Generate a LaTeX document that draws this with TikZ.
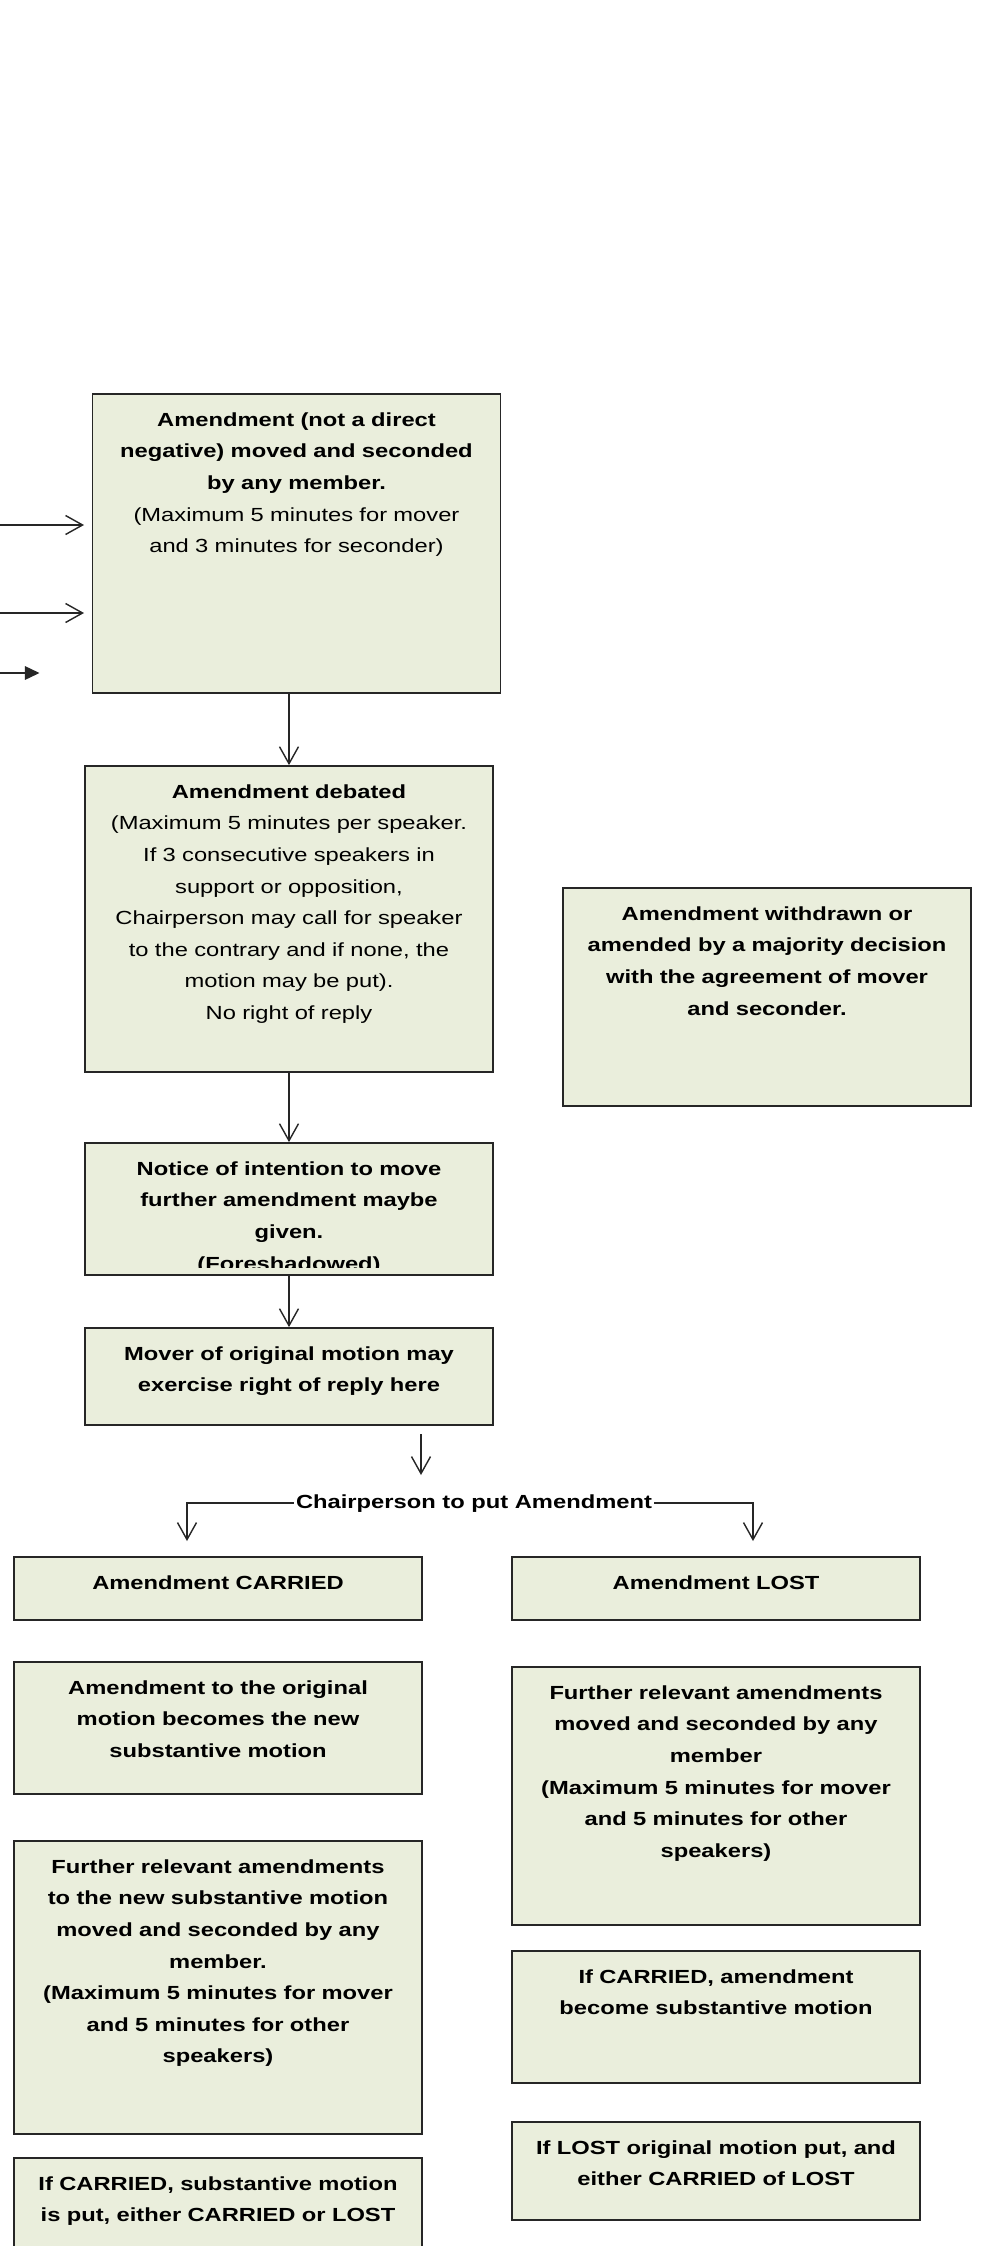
\documentclass[tikz,border=0pt]{standalone}
\usepackage{fontspec}
\setmainfont{Liberation Sans}[FakeStretch=1.25]
\usetikzlibrary{arrows.meta}
\definecolor{mSage}{HTML}{EAEEDC}
\definecolor{mInk}{HTML}{262626}

\begin{document}
\begin{tikzpicture}[
  bx/.style={draw=mInk, fill=mSage, line width=1pt, minimum width=8.16cm, inner sep=0pt},
  txt/.style={anchor=base, text width=8cm, align=center, inner sep=0pt,
              font=\fontsize{10.8}{18}\selectfont\bfseries},
  arr/.style={draw=mInk, line width=0.8pt, -{Straight Barb[length=3.4mm, width=3.8mm]}},
]
  \clip (0,0) rectangle (19.7,-44.92);
  \fill[white] (0,0) rectangle (19.7,-44.92);

  % Main column
  \node[bx, minimum height=5.98cm] (amend) at (5.93,-10.87) {};
  \node[txt] (amendT) at ([yshift=-0.66cm]amend.north) {Amendment (not a direct\\negative) moved and seconded\\by any member.\\\mdseries(Maximum 5 minutes for mover\\and 3 minutes for seconder)};

  \node[bx, minimum height=6.12cm] (debate) at (5.78,-18.38) {};
  \node[txt] (debateT) at ([yshift=-0.66cm]debate.north) {Amendment debated\\\mdseries(Maximum 5 minutes per speaker.\\If 3 consecutive speakers in\\support or opposition,\\Chairperson may call for speaker\\to the contrary and if none, the\\motion may be put).\\No right of reply};

  \node[bx, minimum height=4.36cm] (withdraw) at (15.34,-19.94) {};
  \node[txt] (withdrawT) at ([yshift=-0.66cm]withdraw.north) {Amendment withdrawn or\\amended by a majority decision\\with the agreement of mover\\and seconder.};

  \node[bx, minimum height=2.64cm] (notice) at (5.78,-24.18) {};
  \begin{scope}
    \clip ([yshift=0.16cm]notice.south west) rectangle (notice.north east);
    \node[txt] (noticeT) at ([yshift=-0.66cm]notice.north) {Notice of intention to move\\further amendment maybe\\given.\\(Foreshadowed)};
  \end{scope}

  \node[bx, minimum height=1.94cm] (reply) at (5.78,-27.53) {};
  \node[txt] (replyT) at ([yshift=-0.66cm]reply.north) {Mover of original motion may\\exercise right of reply here};

  \draw[arr] (debate.north |- amend.south) -- (debate.north);
  \draw[arr] (debate.south) -- (notice.north);
  \draw[arr] (notice.south) -- (reply.north);

  % Incoming arrows from the left
  \foreach \y [count=\i] in {-10.50,-12.26} {
    \coordinate (in\i) at (0,\y);
    \coordinate (tip\i) at (1.68,\y);
    \draw[arr] (in\i) -- (tip\i);
  }
  \coordinate (in3) at (0,-13.46);
  \coordinate (tip3) at (0.79,-13.46);
  \draw[mInk, line width=0.8pt, -{Triangle[length=2.9mm, width=2.7mm]}] (in3) -- (tip3);

  % Vote on the amendment
  \coordinate (replyA) at (8.42,-28.68);
  \coordinate (replyB) at (8.42,-29.50);
  \draw[arr] (replyA) -- (replyB);

  \node[font=\fontsize{10.8}{18}\selectfont\bfseries, inner sep=1pt, anchor=base] (chair) at (9.48,-30.16) {Chairperson to put Amendment};
  \coordinate (carriedIn) at (3.74,-30.82);
  \coordinate (lostIn) at (15.06,-30.82);
  \draw[arr] (chair.west) -| (carriedIn);
  \draw[arr] (chair.east) -| (lostIn);

  % CARRIED branch
  \node[bx, minimum height=1.26cm] (carried) at (4.36,-31.77) {};
  \node[txt] (carriedT) at ([yshift=-0.66cm]carried.north) {Amendment CARRIED};

  \node[bx, minimum height=2.64cm] (newsub) at (4.36,-34.56) {};
  \node[txt] (newsubT) at ([yshift=-0.66cm]newsub.north) {Amendment to the original\\motion becomes the new\\substantive motion};

  \node[bx, minimum height=5.86cm] (furtherL) at (4.36,-39.75) {};
  \node[txt] (furtherLT) at ([yshift=-0.66cm]furtherL.north) {Further relevant amendments\\to the new substantive motion\\moved and seconded by any\\member.\\(Maximum 5 minutes for mover\\and 5 minutes for other\\speakers)};

  \node[bx, minimum height=2.44cm] (putL) at (4.36,-44.38) {};
  \node[txt] (putLT) at ([yshift=-0.66cm]putL.north) {If CARRIED, substantive motion\\is put, either CARRIED or LOST};

  % LOST branch
  \node[bx, minimum height=1.26cm] (lost) at (14.32,-31.77) {};
  \node[txt] (lostT) at ([yshift=-0.66cm]lost.north) {Amendment LOST};

  \node[bx, minimum height=5.16cm] (furtherR) at (14.32,-35.92) {};
  \node[txt] (furtherRT) at ([yshift=-0.66cm]furtherR.north) {Further relevant amendments\\moved and seconded by any\\member\\(Maximum 5 minutes for mover\\and 5 minutes for other\\speakers)};

  \node[bx, minimum height=2.64cm] (becomeR) at (14.32,-40.34) {};
  \node[txt] (becomeRT) at ([yshift=-0.66cm]becomeR.north) {If CARRIED, amendment\\become substantive motion};

  \node[bx, minimum height=1.96cm] (putR) at (14.32,-43.42) {};
  \node[txt] (putRT) at ([yshift=-0.66cm]putR.north) {If LOST original motion put, and\\either CARRIED of LOST};
\end{tikzpicture}
\end{document}
